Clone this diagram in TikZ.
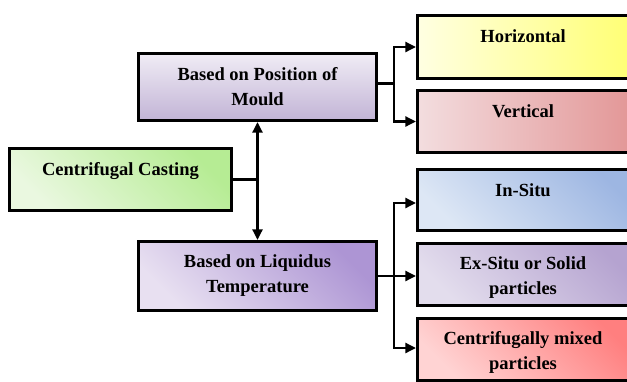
\documentclass[tikz,border=0pt]{standalone}
\usepackage{fontspec}
\setmainfont{Liberation Serif}
\usetikzlibrary{arrows.meta}
\definecolor{mouldT}{HTML}{F0ECF5}
\definecolor{mouldB}{HTML}{C2B4D6}
\definecolor{ccL}{HTML}{EAF8E0}
\definecolor{ccD}{HTML}{B6EC94}
\definecolor{liqL}{HTML}{E8E0F1}
\definecolor{liqD}{HTML}{AD95D4}
\definecolor{horL}{HTML}{FFFFE2}
\definecolor{horD}{HTML}{FFFF70}
\definecolor{verL}{HTML}{F3DDDF}
\definecolor{verD}{HTML}{E29494}
\definecolor{insL}{HTML}{DDE7F5}
\definecolor{insD}{HTML}{9DB6E2}
\definecolor{exL}{HTML}{E3DDED}
\definecolor{exD}{HTML}{B5A3D0}
\definecolor{mixL}{HTML}{FFD3D3}
\definecolor{mixD}{HTML}{FF7F7F}
\begin{document}
\begin{tikzpicture}[x=1pt,y=1pt,
  box/.style={draw=black, line width=3.2pt, rectangle, inner sep=0pt},
  diag/.style 2 args={bottom color=#1, top color=#2, shading angle=-45},
  horiz/.style 2 args={left color=#1, right color=#2},
  lbl/.style={anchor=north, inner sep=0pt, align=center,
    font=\fontsize{18.5}{25}\selectfont\bfseries},
  conn/.style={line width=2.2pt},
  arr/.style={conn, -{Triangle[length=10.5pt,width=10pt]}},
  darr/.style={conn, {Triangle[length=10.5pt,width=10pt]}-{Triangle[length=10.5pt,width=10pt]}}
]
\useasboundingbox (0,0) rectangle (627,-381);
\clip (0,0) rectangle (627,-381);

% left column
\node[box, minimum width=238pt, minimum height=67pt, top color=mouldT, bottom color=mouldB]
  (mould) at (257.5,-87) {};
\node[box, minimum width=222pt, minimum height=62pt, diag={ccL}{ccD}]
  (cc) at (120.5,-179.5) {};
\node[box, minimum width=238pt, minimum height=69pt, diag={liqL}{liqD}]
  (liq) at (257.5,-276) {};

% right column
\node[box, minimum width=222pt, minimum height=63pt, horiz={horL}{horD}]
  (hor) at (528.5,-47) {};
\node[box, minimum width=222pt, minimum height=62pt, horiz={verL}{verD}]
  (ver) at (528.5,-121.5) {};
\node[box, minimum width=222pt, minimum height=61pt, diag={insL}{insD}]
  (ins) at (528.5,-200) {};
\node[box, minimum width=222pt, minimum height=62pt, diag={exL}{exD}]
  (ex) at (528.5,-274.5) {};
\node[box, minimum width=222pt, minimum height=62pt, diag={mixL}{mixD}]
  (mix) at (528.5,-349.5) {};

% texts
\node[lbl] (mouldT) at ([yshift=-15pt]mould.north) {Based on Position of\\Mould};
\node[lbl] (ccT) at ([yshift=-15.5pt]cc.north) {Centrifugal Casting};
\node[lbl] (liqT) at ([yshift=-15pt]liq.north) {Based on Liquidus\\Temperature};
\node[lbl, xshift=-5.5pt] (horT) at ([yshift=-15.5pt]hor.north) {Horizontal};
\node[lbl, xshift=-5.5pt] (verT) at ([yshift=-15.5pt]ver.north) {Vertical};
\node[lbl, xshift=-5.5pt] (insT) at ([yshift=-15.5pt]ins.north) {In-Situ};
\node[lbl, xshift=-5.5pt] (exT) at ([yshift=-15pt]ex.north) {Ex-Situ or Solid\\particles};
\node[lbl, xshift=-5.5pt] (mixT) at ([yshift=-14pt]mix.north) {Centrifugally mixed\\particles};

% connectors
\coordinate (jc) at (cc.east -| mould.south);
\draw[conn] (cc.east) -- (jc);
\draw[darr] (mould.south) -- (liq.north);

\coordinate (mo) at ([yshift=3.5pt]mould.east);
\coordinate (j1) at ([xshift=16pt]mo);
\draw[conn] (mo) -- (j1);
\draw[arr] (j1) |- (hor.west);
\draw[arr] (j1) |- (ver.west);

\coordinate (j2) at (liq.east -| j1);
\draw[arr] (liq.east) -- (liq.east -| ex.west);
\draw[arr] (j2) |- ([yshift=-3pt]ins.west);
\draw[arr] (j2) |- ([yshift=1.5pt]mix.west);
\end{tikzpicture}
\end{document}
